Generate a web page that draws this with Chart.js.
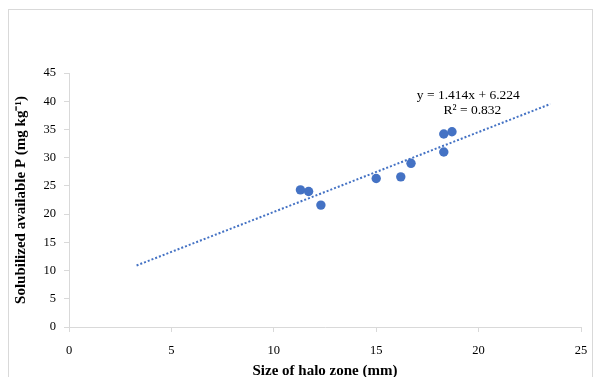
<!DOCTYPE html>
<html>
<head>
<meta charset="utf-8">
<script src="https://cdn.jsdelivr.net/npm/chart.js@4/dist/chart.umd.min.js"></script>
<style>
  html, body { margin: 0; padding: 0; background: #ffffff; }
  #wrap { width: 601px; height: 377px; position: relative; }
</style>
</head>
<body>
<div id="wrap"><canvas id="c" width="601" height="377"></canvas></div>
<script>
// Observed data (halo zone size vs solubilized P)
const haloSize = [11.3, 11.7, 12.3, 15.0, 16.2, 16.7, 18.3, 18.3, 18.7];
const availableP = [24.3, 24.0, 21.6, 26.3, 26.6, 29.0, 34.2, 31.0, 34.6];
// Linear trendline endpoints
const trendX = [3.3, 23.5];
const trendY = [10.9, 39.5];
const xTicks = [0, 5, 10, 15, 20, 25];
const yTicks = [0, 5, 10, 15, 20, 25, 30, 35, 40, 45];
const equationText = ["y = 1.414x + 6.224", "R\u00B2 = 0.832"];
const xTitle = "Size of halo zone (mm)";
const yTitle = "Solubilized available P (mg kg\u207B\u00B9)";

const BLUE = "#4472C4";
const AXIS = "#d9d9d9";

const points = haloSize.map((x, i) => ({ x: x, y: availableP[i] }));
const trend = trendX.map((x, i) => ({ x: x, y: trendY[i] }));

const extras = {
  id: "extras",
  beforeDraw(chart) {
    const ctx = chart.ctx;
    ctx.save();
    ctx.fillStyle = "#ffffff";
    ctx.fillRect(0, 0, chart.width, chart.height);
    ctx.strokeStyle = "#d9d9d9";
    ctx.lineWidth = 1;
    ctx.strokeRect(8.5, 9.5, 584, 400);
    ctx.restore();
  },
  afterDatasetsDraw(chart) {
    const ctx = chart.ctx;
    const xs = chart.scales.x, ys = chart.scales.y;
    ctx.save();
    ctx.fillStyle = "#000000";
    ctx.font = "13.5px 'Liberation Serif'";
    ctx.textAlign = "center";
    ctx.textBaseline = "middle";
    ctx.fillText(equationText[0], xs.getPixelForValue(19.5), ys.getPixelForValue(41.0));
    ctx.fillText(equationText[1], xs.getPixelForValue(19.7), ys.getPixelForValue(38.3));
    ctx.restore();
  }
};

new Chart(document.getElementById("c"), {
  type: "scatter",
  data: {
    datasets: [
      {
        label: "Trend",
        type: "line",
        data: trend,
        borderColor: BLUE,
        borderWidth: 2,
        borderDash: [2, 2],
        borderCapStyle: "butt",
        pointRadius: 0,
        fill: false,
        order: 2
      },
      {
        label: "Data",
        data: points,
        backgroundColor: BLUE,
        borderColor: BLUE,
        borderWidth: 0,
        pointRadius: 4.7,
        pointHoverRadius: 4.7,
        order: 1
      }
    ]
  },
  options: {
    responsive: false,
    animation: false,
    devicePixelRatio: 1,
    layout: { padding: { left: 9, top: 73, right: 20, bottom: -2 } },
    plugins: { legend: { display: false }, tooltip: { enabled: false } },
    scales: {
      x: {
        type: "linear",
        min: 0, max: 25,
        afterBuildTicks(s) { s.ticks = xTicks.map(v => ({ value: v })); },
        afterFit(s) { s.height = 52; },
        border: { display: true, color: AXIS, width: 1 },
        grid: { drawOnChartArea: false, drawTicks: true, tickLength: 5, color: AXIS },
        ticks: { color: "#000", padding: 11, font: { family: "'Liberation Serif'", size: 12.5 } },
        title: {
          display: true, text: xTitle, color: "#000",
          font: { family: "'Liberation Serif'", size: 15, weight: "bold", lineHeight: 1 },
          padding: { top: 0, bottom: 0 }
        }
      },
      y: {
        type: "linear",
        min: 0, max: 45,
        afterBuildTicks(s) { s.ticks = yTicks.map(v => ({ value: v })); },
        afterFit(s) { s.width = 60; },
        border: { display: true, color: AXIS, width: 1 },
        grid: { drawOnChartArea: false, drawTicks: true, tickLength: 5, color: AXIS },
        ticks: { color: "#000", padding: 8, font: { family: "'Liberation Serif'", size: 12.5 } },
        title: {
          display: true, text: yTitle, color: "#000",
          font: { family: "'Liberation Serif'", size: 15, weight: "bold", lineHeight: 1 },
          padding: { top: 5, bottom: 0 }
        }
      }
    }
  },
  plugins: [extras]
});
</script>
</body>
</html>
